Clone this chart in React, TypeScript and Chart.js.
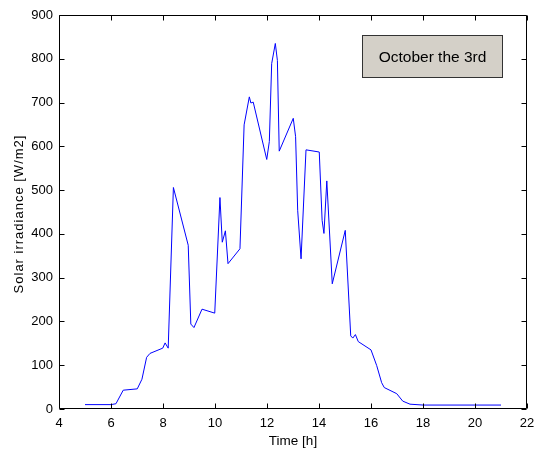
import React, { useEffect, useRef } from "react";
import { Chart, registerables } from "chart.js";

Chart.register(...registerables);

const hours = [
  5.0, 6.0, 6.19, 6.47, 7.01, 7.19, 7.37, 7.5, 7.99, 8.08, 8.2, 8.4, 8.97, 9.07, 9.19, 9.5,
  9.99, 10.19, 10.28, 10.4, 10.5, 10.96, 11.12, 11.32, 11.38, 11.47, 11.99, 12.09, 12.18,
  12.32, 12.4, 12.47, 13.01, 13.1, 13.18, 13.31, 13.5, 14.01, 14.12, 14.19, 14.3, 14.51,
  15.01, 15.22, 15.3, 15.4, 15.51, 16.0, 16.22, 16.41, 16.51, 16.99, 17.22, 17.5, 18.0, 21.0,
];
const irradiance = [
  10, 10, 12, 43, 46, 68, 118, 127, 139, 151, 139, 506, 374, 194, 186, 228,
  219, 483, 381, 407, 332, 366, 649, 713, 699, 701, 570, 611, 789,
  835, 796, 589, 664, 622, 454, 343, 592, 587, 431, 401, 521, 286,
  408, 167, 162, 170, 154, 135, 99, 60, 49, 35, 18, 11, 9, 9,
];
const xTicks = [4, 6, 8, 10, 12, 14, 16, 18, 20, 22];
const yTicks = [0, 100, 200, 300, 400, 500, 600, 700, 800, 900];
const annotationText = "October the 3rd";
const xTitle = "Time [h]";
const yTitle = "Solar irradiance [W/m2]";

const FONT = "'Liberation Sans', Arial, sans-serif";

const framePlugin = {
  id: "frame",
  afterDraw(chart: any) {
    const ctx = chart.ctx;
    const { left, right, top, bottom } = chart.chartArea;
    const xs = chart.scales.x;
    const ys = chart.scales.y;
    ctx.save();
    ctx.strokeStyle = "#000";
    ctx.lineWidth = 1;
    const L = Math.round(left) + 0.5;
    const R = Math.round(right) - 0.5;
    const T = Math.round(top) + 0.5;
    const B = Math.round(bottom) - 0.5;
    ctx.beginPath();
    ctx.rect(L, T, R - L, B - T);
    ctx.stroke();
    const tl = 5;
    ctx.beginPath();
    xTicks.forEach((v) => {
      const p = Math.round(xs.getPixelForValue(v)) + 0.5;
      ctx.moveTo(p, B);
      ctx.lineTo(p, B - tl);
      ctx.moveTo(p, T);
      ctx.lineTo(p, T + tl);
    });
    yTicks.forEach((v) => {
      const p = Math.round(ys.getPixelForValue(v)) + 0.5;
      ctx.moveTo(L, p);
      ctx.lineTo(L + tl, p);
      ctx.moveTo(R, p);
      ctx.lineTo(R - tl, p);
    });
    ctx.stroke();

    // y-axis title (letter-spaced like the original)
    ctx.save();
    ctx.translate(19, (top + bottom) / 2 + 2);
    ctx.rotate(-Math.PI / 2);
    ctx.fillStyle = "#000";
    ctx.font = `13px ${FONT}`;
    (ctx as any).letterSpacing = "1px";
    ctx.textAlign = "center";
    ctx.textBaseline = "middle";
    ctx.fillText(yTitle, 0, 0);
    ctx.restore();

    // annotation box
    const bx = Math.round(xs.getPixelForValue(15.65)) + 0.5;
    const bw = 140;
    const by = Math.round(ys.getPixelForValue(855)) + 0.5;
    const bh = 42;
    ctx.fillStyle = "#d4d0c8";
    ctx.fillRect(bx, by, bw, bh);
    ctx.strokeStyle = "#333";
    ctx.strokeRect(bx, by, bw, bh);
    ctx.fillStyle = "#000";
    ctx.font = `15.5px ${FONT}`;
    ctx.textAlign = "center";
    ctx.textBaseline = "middle";
    ctx.fillText(annotationText, bx + bw / 2, by + bh / 2 + 1);
    ctx.restore();
  },
};

export default function App() {
  const ref = useRef<HTMLCanvasElement>(null);
  useEffect(() => {
    if (!ref.current) return;
    const chart = new Chart(ref.current, {
      type: "line",
      data: {
        datasets: [
          {
            data: hours.map((h, i) => ({ x: h, y: irradiance[i] })),
            borderColor: "#0000ff",
            borderWidth: 1,
            pointRadius: 0,
            tension: 0,
            fill: false,
          },
        ],
      },
      options: {
        responsive: false,
        animation: false,
        layout: { padding: { left: 0, right: 9, top: 15, bottom: 0 } },
        plugins: { legend: { display: false }, tooltip: { enabled: false } },
        scales: {
          x: {
            type: "linear",
            min: 4,
            max: 22,
            afterBuildTicks: (s: any) => {
              s.ticks = xTicks.map((v) => ({ value: v }));
            },
            afterFit: (s: any) => {
              s.height = 41;
              s.paddingLeft = 0;
              s.paddingRight = 0;
            },
            ticks: { color: "#000", font: { size: 13, family: FONT }, padding: 7, maxRotation: 0 },
            grid: { display: false, drawTicks: false },
            border: { display: false },
            title: {
              display: true,
              text: xTitle,
              color: "#000",
              font: { size: 13.5, family: FONT },
              padding: { top: 0, bottom: 1 },
            },
          },
          y: {
            type: "linear",
            min: 0,
            max: 900,
            afterBuildTicks: (s: any) => {
              s.ticks = yTicks.map((v) => ({ value: v }));
            },
            afterFit: (s: any) => {
              s.width = 59;
              s.paddingTop = 0;
              s.paddingBottom = 0;
            },
            ticks: { color: "#000", font: { size: 13, family: FONT }, padding: 6 },
            grid: { display: false, drawTicks: false },
            border: { display: false },
            title: { display: false },
          },
        },
      },
      plugins: [framePlugin],
    });
    return () => chart.destroy();
  }, []);
  return (
    <div style={{ position: "absolute", left: 0, top: 0, width: 536, height: 450, background: "#fff" }}>
      <canvas ref={ref} width={536} height={450} style={{ display: "block" }} />
    </div>
  );
}
